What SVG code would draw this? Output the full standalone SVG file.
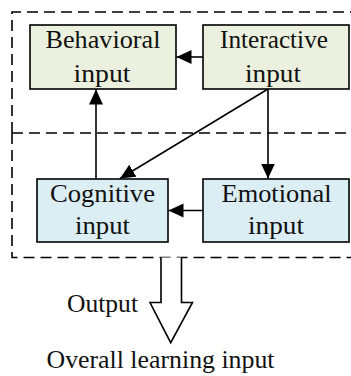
<svg xmlns="http://www.w3.org/2000/svg" width="351" height="376" viewBox="0 0 351 376">
  <style>
    .frame { fill: none; stroke: #000; stroke-width: 1.6; stroke-dasharray: 11 6; }
    .box { stroke: #000; stroke-width: 1.6; }
    .green { fill: #ebf1de; }
    .blue { fill: #dbeef4; }
    text { fill: #111; font-family: "Liberation Serif", "Times New Roman", serif; }
    .lbl { font-size: 24.5px; text-anchor: middle; }
    .out { font-size: 25px; }
    .link { fill: none; stroke: #000; stroke-width: 1.6; marker-end: url(#head); }
  </style>
  <defs>
    <marker id="head" viewBox="0 0 15 15" refX="15" refY="7.5" markerWidth="15" markerHeight="15" markerUnits="userSpaceOnUse" orient="auto">
      <path d="M0,0.5 L15,7.5 L0,14.5 Z" fill="#000"/>
    </marker>
  </defs>

  <!-- dashed grouping frames -->
  <g id="frames">
    <path class="frame" d="M12,133 V12 H352"/>
    <path class="frame" d="M12,133 H352"/>
    <path class="frame" d="M12,133 V257.5 H352"/>
  </g>

  <g id="behavioral">
    <rect class="box green" x="30" y="25" width="146" height="64"/>
    <text class="lbl" x="103" y="48" textLength="115" lengthAdjust="spacingAndGlyphs">Behavioral</text>
    <text class="lbl" x="102" y="81.5" textLength="57" lengthAdjust="spacingAndGlyphs">input</text>
  </g>

  <g id="interactive">
    <rect class="box green" x="203" y="25" width="146" height="64"/>
    <text class="lbl" x="274" y="48" textLength="108" lengthAdjust="spacingAndGlyphs">Interactive</text>
    <text class="lbl" x="273" y="81.5" textLength="56" lengthAdjust="spacingAndGlyphs">input</text>
  </g>

  <g id="cognitive">
    <rect class="box blue" x="37" y="179" width="131" height="63"/>
    <text class="lbl" x="102.5" y="201.5" textLength="105" lengthAdjust="spacingAndGlyphs">Cognitive</text>
    <text class="lbl" x="102.5" y="233.5" textLength="55" lengthAdjust="spacingAndGlyphs">input</text>
  </g>

  <g id="emotional">
    <rect class="box blue" x="203" y="179" width="146" height="63"/>
    <text class="lbl" x="276.5" y="201.5" textLength="110" lengthAdjust="spacingAndGlyphs">Emotional</text>
    <text class="lbl" x="276" y="233.5" textLength="56" lengthAdjust="spacingAndGlyphs">input</text>
  </g>

  <g id="connectors">
    <line class="link" x1="203" y1="57" x2="176.5" y2="57"/>
    <line class="link" x1="96" y1="179" x2="96" y2="89.5"/>
    <line class="link" x1="268" y1="89" x2="120" y2="178.5"/>
    <line class="link" x1="268" y1="89" x2="268" y2="178.5"/>
    <line class="link" x1="203" y1="210.5" x2="168.5" y2="210.5"/>
  </g>

  <!-- hollow output arrow -->
  <g id="output">
    <path d="M161,257.5 V302.5 H150 L170.7,342.7 L192.5,302.5 H181.5 V257.5" fill="#fff" stroke="#000" stroke-width="1.6" stroke-linejoin="miter"/>
    <text class="out" x="67" y="312" textLength="71" lengthAdjust="spacingAndGlyphs">Output</text>
    <text class="out" x="46.5" y="367.5" textLength="228" lengthAdjust="spacingAndGlyphs">Overall learning input</text>
  </g>
</svg>
